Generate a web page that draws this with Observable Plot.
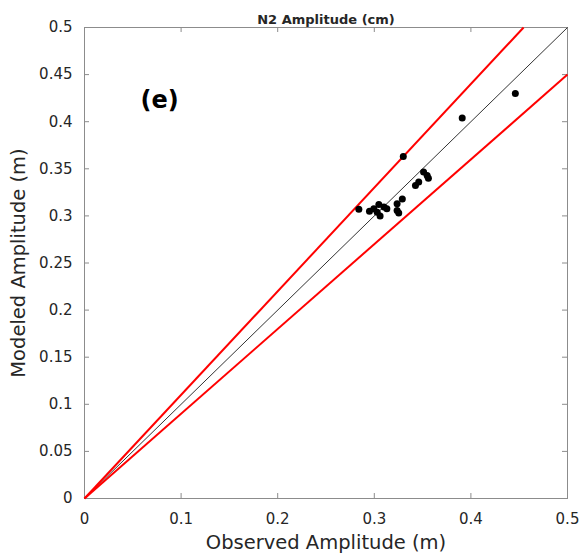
<!DOCTYPE html>
<html>
<head>
<meta charset="utf-8">
<script src="https://cdn.jsdelivr.net/npm/d3@7"></script>
<script src="https://cdn.jsdelivr.net/npm/@observablehq/plot@0.6"></script>
<style>
  html, body { margin: 0; padding: 0; background: #fff; }
</style>
</head>
<body>
<div id="chart"></div>
<script>
// Observed vs modeled N2 amplitude (m)
const observed = [0.446, 0.391, 0.330, 0.284, 0.295, 0.2995, 0.3047, 0.310, 0.303, 0.306, 0.313, 0.3236, 0.329, 0.3236, 0.3253, 0.3426, 0.346, 0.351, 0.3547, 0.3560];
const modeled  = [0.430, 0.404, 0.363, 0.307, 0.305, 0.3075, 0.312,  0.3095, 0.304, 0.300, 0.3075, 0.3128, 0.318, 0.3057, 0.303, 0.3323, 0.336, 0.3465, 0.343, 0.340];

// reference lines y = slope * x (1:1 and ±10 %)
const refSlopes = [1.0, 1.1, 0.9];
const refColors = ["#333333", "#ff0000", "#ff0000"];
const refWidths = [1, 2, 2];

const xTicks = [0, 0.1, 0.2, 0.3, 0.4, 0.5];
const yTicks = [0, 0.05, 0.1, 0.15, 0.2, 0.25, 0.3, 0.35, 0.4, 0.45, 0.5];

const title = "N2 Amplitude (cm)";
const panelLabel = "(e)";
const xLabel = "Observed Amplitude (m)";
const yLabel = "Modeled Amplitude (m)";

const axisMax = 0.5;
const points = observed.map((o, i) => ({observed: o, modeled: modeled[i]}));
const refLines = refSlopes.map((s, i) => ({
  x1: 0, y1: 0,
  x2: Math.min(axisMax, axisMax / s), y2: Math.min(axisMax, axisMax / s) * s,
  color: refColors[i], width: refWidths[i]
}));

const W = 585, H = 557, mL = 84, mR = 18, mT = 27, mB = 59;
const frameW = W - mL - mR, frameH = H - mT - mB, tickLen = 5;

const fmt = d => String(d);
const textColor = "#262626";
const frameColor = "#8c8c8c";

const chart = Plot.plot({
  width: W,
  height: H,
  marginLeft: mL,
  marginRight: mR,
  marginTop: mT,
  marginBottom: mB,
  style: {fontFamily: "DejaVu Sans, sans-serif", fontSize: "15px", color: textColor, background: "#fff"},
  x: {domain: [0, axisMax]},
  y: {domain: [0, axisMax]},
  marks: [
    // inward ticks on all four sides
    Plot.tickX(xTicks, {x: d => d, insetTop: frameH - tickLen, stroke: frameColor}),
    Plot.tickX(xTicks, {x: d => d, insetBottom: frameH - tickLen, stroke: frameColor}),
    Plot.tickY(yTicks, {y: d => d, insetRight: frameW - tickLen, stroke: frameColor}),
    Plot.tickY(yTicks, {y: d => d, insetLeft: frameW - tickLen, stroke: frameColor}),
    // tick labels and axis titles
    Plot.axisX(xTicks, {anchor: "bottom", tickSize: 0, tickPadding: 15, tickFormat: fmt, fill: textColor,
      label: xLabel, labelAnchor: "center", labelArrow: "none", labelOffset: 50, fontSize: 15}),
    Plot.axisY(yTicks, {anchor: "left", tickSize: 0, tickPadding: 12, tickFormat: fmt, fill: textColor,
      label: yLabel, labelAnchor: "center", labelArrow: "none", labelOffset: 73, fontSize: 15}),
    Plot.frame({stroke: frameColor}),
    Plot.link(refLines, {x1: "x1", y1: "y1", x2: "x2", y2: "y2", stroke: "color", strokeWidth: "width"}),
    Plot.dot(points, {x: "observed", y: "modeled", r: 3.5, fill: "black", stroke: "none"}),
    Plot.text([title], {frameAnchor: "top", dy: -4, lineAnchor: "bottom", fontWeight: "bold", fontSize: 13, fill: textColor}),
    Plot.text([panelLabel], {frameAnchor: "top-left", textAnchor: "start", dx: 56, dy: 63, fontWeight: "bold", fontSize: 24, fill: "black"})
  ]
});
// axis title font sizes
chart.querySelectorAll("g[aria-label='x-axis label'] text, g[aria-label='y-axis label'] text").forEach(t => t.setAttribute("font-size", "19.5"));
document.getElementById("chart").appendChild(chart);
</script>
</body>
</html>
